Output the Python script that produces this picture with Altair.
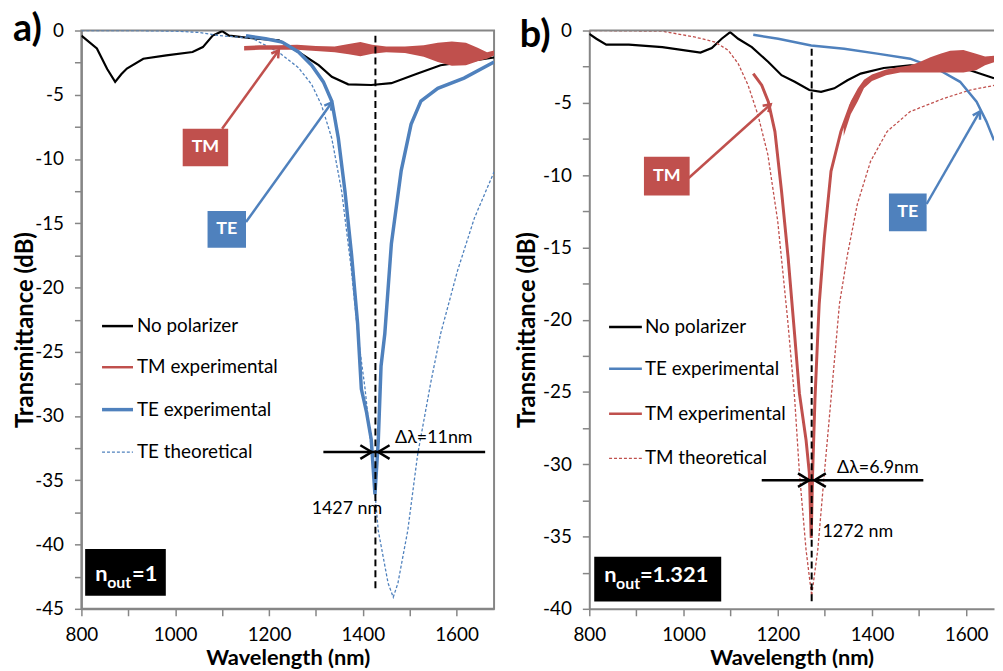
import math
import altair as alt
import pandas as pd

RED = "#C0504D"
BLUE = "#4F81BD"
GRAY = "#868686"
FONT = "Lato"

# ---------------- Panel a (n_out = 1) ----------------
A_NOPOL_WL = [800, 833, 855, 872, 885, 897, 932, 981, 1037, 1059, 1080, 1100, 1115, 1164, 1221, 1263,
              1306, 1334, 1369, 1418, 1461, 1517, 1566, 1616, 1680]
A_NOPOL_DB = [-0.4, -1.4, -3.0, -4.0, -3.4, -2.96, -2.2, -1.93, -1.67, -1.29, -0.39, -0.05, -0.4, -0.6,
              -0.77, -1.67, -2.7, -3.6, -4.19, -4.24, -4.1, -3.34, -2.7, -2.45, -2.1]

A_TM_WL = [1147, 1180, 1220, 1260, 1300, 1340, 1370, 1395, 1420, 1450, 1490, 1530, 1560, 1590, 1620,
           1645, 1665, 1680]
A_TM_HI = [-1.20, -1.15, -1.15, -1.10, -1.20, -1.25, -1.05, -0.90, -1.10, -1.25, -1.25, -1.15, -0.95,
           -0.85, -0.95, -1.35, -1.70, -1.55]
A_TM_LO = [-1.55, -1.50, -1.50, -1.50, -1.60, -1.70, -1.85, -2.00, -1.80, -1.70, -1.75, -2.05, -2.45,
           -2.75, -2.70, -2.40, -2.20, -1.95]

A_TE_WL = [1151, 1193, 1228, 1263, 1291, 1316, 1334, 1348, 1362, 1376, 1389, 1397, 1408, 1418, 1426,
           1433, 1439, 1447, 1461, 1482, 1503, 1524, 1560, 1616, 1680]
A_TE_DB = [-0.4, -0.64, -0.9, -1.67, -2.7, -4.0, -5.5, -8.4, -12.5, -17.4, -22.8, -27.9, -29.7, -31.8,
           -36.1, -32.0, -26.1, -23.6, -16.6, -10.9, -7.3, -5.5, -4.5, -3.7, -2.45]

A_TH_WL = [800, 900, 1000, 1050, 1094, 1164, 1221, 1263, 1291, 1312, 1334, 1355, 1376, 1390, 1405,
           1418, 1433, 1454, 1465, 1475, 1496, 1517, 1545, 1566, 1602, 1638, 1680]
A_TH_DB = [0, 0, -0.05, -0.15, -0.4, -0.6, -1.7, -2.9, -4.2, -5.8, -8.4, -12.5, -18.7, -23.8, -27.9,
           -32.5, -38.9, -43.0, -44.1, -43.0, -38.9, -33.0, -27.4, -23.6, -18.7, -14.6, -11.0]

A_LEGEND = ["No polarizer", "TM experimental", "TE experimental", "TE theoretical"]
A_LEGEND_DB = [-23.0, -26.2, -29.5, -32.8]

# ---------------- Panel b (n_out = 1.321) ----------------
B_NOPOL_WL = [800, 815, 836, 884, 955, 1036, 1060, 1081, 1099, 1116, 1145, 1180, 1208, 1236, 1267,
              1292, 1320, 1348, 1376, 1425, 1481, 1552, 1608, 1659]
B_NOPOL_DB = [-0.23, -0.57, -0.98, -0.98, -1.15, -1.53, -1.21, -0.57, -0.11, -0.57, -1.15, -2.18,
              -3.09, -3.55, -4.12, -4.24, -4.0, -3.44, -2.98, -2.59, -2.41, -2.52, -2.75, -3.3]

B_TE_WL = [1148, 1201, 1271, 1341, 1411, 1481, 1537, 1587, 1622, 1643, 1659]
B_TE_DB = [-0.3, -0.57, -1.03, -1.26, -1.6, -1.95, -2.63, -3.55, -4.93, -6.3, -7.6]

B_TM_WL = [1148, 1166, 1180, 1194, 1208, 1222, 1236, 1246, 1260, 1267, 1271, 1274, 1279, 1285, 1288,
           1299, 1313, 1334, 1355, 1376]
B_TM_DB = [-2.98, -3.78, -4.93, -6.99, -11.1, -15.7, -21.1, -25.1, -28.3, -30.6, -35.1, -30.6, -25.5,
           -21.0, -18.9, -14.3, -9.74, -6.99, -5.15, -4.0]

B_TMBAND_WL = [1340, 1355, 1370, 1383, 1400, 1430, 1460, 1482, 1500, 1524, 1545, 1566, 1594, 1621,
               1640, 1659]
B_TMBAND_HI = [-6.6, -4.9, -4.0, -3.4, -3.05, -2.7, -2.5, -2.4, -2.2, -1.85, -1.6, -1.4, -1.35, -1.6,
               -1.8, -1.75]
B_TMBAND_LO = [-7.3, -5.8, -4.9, -4.0, -3.5, -3.1, -2.9, -2.9, -2.9, -2.9, -2.9, -2.9, -2.9, -2.75,
               -2.4, -2.2]

B_TH_WL = [800, 955, 1025, 1067, 1095, 1116, 1137, 1158, 1179, 1200, 1221, 1236, 1246, 1260, 1272,
           1285, 1299, 1313, 1331, 1348, 1369, 1397, 1432, 1481, 1552, 1608, 1659]
B_TH_DB = [0, -0.05, -0.46, -0.8, -1.37, -2.29, -3.78, -5.84, -8.59, -13.2, -20.0, -25.5, -30.6,
           -35.9, -39.1, -35.9, -30.6, -25.5, -18.9, -15.5, -12.0, -9.05, -6.99, -5.61, -4.7, -4.12,
           -3.8]

B_LEGEND = ["No polarizer", "TE experimental", "TM experimental", "TM theoretical"]
B_LEGEND_DB = [-20.5, -23.4, -26.5, -29.6]

ARROW = "M-1,-0.6L0,0L-1,0.6"


def build_panel(p):
    W, H = p["width"], 583
    xdom = [800, p["xmax"]]
    ydom = [p["ymin"], 0]
    sx = W / (xdom[1] - xdom[0])
    sy = H / (ydom[1] - ydom[0])
    X = alt.X("wl:Q", scale=alt.Scale(domain=xdom, nice=False, zero=False),
              title="Wavelength (nm)",
              axis=alt.Axis(values=list(range(800, 1601, 100)),
                            labelExpr="datum.value % 200 == 0 ? '' + datum.value : ''",
                            grid=False, tickSize=7, tickColor=GRAY, tickWidth=1.5,
                            domainColor=GRAY, domainWidth=2, labelFont=FONT, labelFontSize=19,
                            labelColor="black", labelPadding=10, labelFlush=False,
                            labelOverlap=False, titleFont=FONT, titleFontSize=22,
                            titleFontWeight="bold", titleColor="black", titleY=56,
                            titleBaseline="alphabetic"))
    Y = alt.Y("db:Q", scale=alt.Scale(domain=ydom, nice=False, zero=False),
              title="Transmittance (dB)",
              axis=alt.Axis(values=[ydom[0] + 2.5 * i for i in range(int(-ydom[0] / 2.5) + 1)],
                            labelExpr="datum.value % 5 == 0 ? '' + datum.value : ''",
                            grid=False, tickSize=7, tickColor=GRAY, tickWidth=1.5,
                            domainColor=GRAY, domainWidth=2, labelFont=FONT, labelFontSize=19,
                            labelColor="black", labelPadding=11, labelFlush=False,
                            labelOverlap=False, titleFont=FONT, titleFontSize=24,
                            titleFontWeight="bold", titleColor="black", titleX=p["titleX"],
                            titleY=H / 2 + 10, titleBaseline="alphabetic"))

    def line(wl, db, color, width, dash=None):
        kw = dict(color=color, strokeWidth=width, clip=True)
        if dash:
            kw["strokeDash"] = dash
        return alt.Chart(pd.DataFrame({"wl": wl, "db": db})).mark_line(**kw).encode(x=X, y=Y)

    def band(wl, hi, lo, color):
        return alt.Chart(pd.DataFrame({"wl": wl, "db": hi, "db2": lo})).mark_area(
            color=color, opacity=1, clip=True).encode(x=X, y=Y, y2="db2")

    def seg(rows, color, width, dash=None):
        d = pd.DataFrame(rows, columns=["wl", "db", "wl2", "db2"])
        kw = dict(color=color, strokeWidth=width)
        if dash:
            kw["strokeDash"] = dash
        return alt.Chart(d).mark_rule(**kw).encode(x=X, y=Y, x2="wl2", y2="db2")

    def heads(pts, color, size, width):
        rows = []
        for (x0, y0, x1, y1) in pts:
            ang = math.degrees(math.atan2(-(y1 - y0) * sy, (x1 - x0) * sx)) % 360
            rows.append({"wl": x1, "db": y1, "ang": ang})
        return alt.Chart(pd.DataFrame(rows)).mark_point(
            shape=ARROW, filled=False, size=size, strokeWidth=width, color=color, opacity=1
        ).encode(x=X, y=Y, angle=alt.Angle("ang:Q", scale=None))

    def text(rows, **kw):
        d = pd.DataFrame(rows, columns=["wl", "db", "t"])
        base = dict(font=FONT, color="black")
        base.update(kw)
        return alt.Chart(d).mark_text(**base).encode(x=X, y=Y, text="t:N")

    def rect(box, color):
        d = pd.DataFrame([box], columns=["wl", "wl2", "db", "db2"])
        return alt.Chart(d).mark_rect(color=color, opacity=1).encode(x=X, x2="wl2", y=Y, y2="db2")

    layers = []
    layers.append(line(p["nopol"][0], p["nopol"][1], "black", 2.2))
    for c in p["curves"]:
        if c["kind"] == "band":
            layers.append(band(c["wl"], c["hi"], c["lo"], c["color"]))
        else:
            layers.append(line(c["wl"], c["db"], c["color"], c["width"], c.get("dash")))
    vx, vy0, vy1 = p["vline"]
    layers.append(seg([(vx, vy0, vx, vy1)], "black", 2, [7, 4]))
    hy, hx0, hx1, tip_l, tip_r = p["dl"]
    layers.append(seg([(hx0, hy, hx1, hy)], "black", 2.5))
    layers.append(heads([(hx0, hy, tip_l, hy), (hx1, hy, tip_r, hy)], "black", 520, 2.5))
    layers.append(text([p["dl_text"]], align="left", baseline="alphabetic", fontSize=18))
    layers.append(text([p["nm_text"]], align="left", baseline="alphabetic", fontSize=18))
    for b in p["boxes"]:
        layers.append(seg([b["arrow"]], b["color"], 2.5))
        layers.append(heads([b["arrow"]], b["color"], 200, 2.5))
        layers.append(rect(b["rect"], b["color"]))
        cx = (b["rect"][0] + b["rect"][1]) / 2
        cy = (b["rect"][2] + b["rect"][3]) / 2
        layers.append(text([(cx, cy, b["label"])], align="center", baseline="middle",
                           fontSize=18, fontWeight="bold", color="white"))
    layers.append(rect(p["nbox"], "black"))
    nx, ny, nval = p["ntext"]
    layers.append(text([(nx, ny, "n")], align="left", baseline="alphabetic", fontSize=22,
                       fontWeight="bold", color="white"))
    layers.append(text([(nx, ny, "out")], align="left", baseline="alphabetic", fontSize=16,
                       fontWeight="bold", color="white", dx=12, dy=7))
    layers.append(text([(nx, ny, nval)], align="left", baseline="alphabetic", fontSize=22,
                       fontWeight="bold", color="white", dx=p["eqdx"]))
    lx0, lx1, ltx = p["legx"]
    for name, ydb, st in zip(p["legend"], p["legend_db"], p["legend_styles"]):
        color, width, dash = st
        layers.append(seg([(lx0, ydb, lx1, ydb)], color, width, dash))
    layers.append(text([(ltx, ydb_, nm) for nm, ydb_ in zip(p["legend"], p["legend_db"])],
                       align="left", baseline="middle", fontSize=19))
    layers.append(alt.Chart(pd.DataFrame({"t": [p["letter"]]})).mark_text(
        font=FONT, fontSize=38, fontWeight="bold", color="black", align="left",
        baseline="alphabetic").encode(x=alt.value(p["letter_xy"][0]),
                                      y=alt.value(p["letter_xy"][1]), text="t:N"))
    if p.get("topline"):
        layers.append(alt.Chart(pd.DataFrame({"t": [0]})).mark_rule(
            color=GRAY, strokeWidth=2).encode(x=alt.value(0), x2=alt.value(W), y=alt.value(0)))

    ch = alt.layer(*layers).properties(width=W, height=H)
    if p.get("frame"):
        ch = ch.properties(view=alt.ViewBackground(stroke=GRAY, strokeWidth=2))
    else:
        ch = ch.properties(view=alt.ViewBackground(stroke=None))
    return ch


panel_a = build_panel(dict(
    width=416, xmax=1680, ymin=-45, titleX=-49, frame=True,
    nopol=(A_NOPOL_WL, A_NOPOL_DB),
    curves=[
        dict(kind="line", wl=A_TH_WL, db=A_TH_DB, color=BLUE, width=1.3, dash=[3, 2]),
        dict(kind="band", wl=A_TM_WL, hi=A_TM_HI, lo=A_TM_LO, color=RED),
        dict(kind="line", wl=A_TE_WL, db=A_TE_DB, color=BLUE, width=3.5),
    ],
    vline=(1427, -0.4, -43.6),
    dl=(-32.8, 1316, 1661, 1419, 1433),
    dl_text=(1469, -32.1, "Δλ=11nm"),
    nm_text=(1291, -37.6, "1427 nm"),
    boxes=[
        dict(label="TM", color=RED, rect=(1016, 1113, -7.64, -10.57), arrow=(1100, -7.64, 1221, -1.54)),
        dict(label="TE", color=BLUE, rect=(1069, 1151, -14.04, -16.9), arrow=(1151, -14.9, 1334, -5.6)),
    ],
    nbox=(808, 980, -40.35, -43.98),
    ntext=(829.6, -42.84, "=1"), eqdx=37,
    legx=(844, 910, 918.5),
    legend=A_LEGEND, legend_db=A_LEGEND_DB,
    legend_styles=[("black", 2.5, None), (RED, 2.5, None), (BLUE, 3.5, None), (BLUE, 1.3, [3, 2])],
    letter="a)", letter_xy=(-69, 11),
))

panel_b = build_panel(dict(
    width=408, xmax=1659, ymin=-40, titleX=-55, frame=False, topline=True,
    nopol=(B_NOPOL_WL, B_NOPOL_DB),
    curves=[
        dict(kind="line", wl=B_TH_WL, db=B_TH_DB, color=RED, width=1.3, dash=[3, 2]),
        dict(kind="line", wl=B_TE_WL, db=B_TE_DB, color=BLUE, width=2.5),
        dict(kind="line", wl=B_TM_WL, db=B_TM_DB, color=RED, width=3),
        dict(kind="band", wl=B_TMBAND_WL, hi=B_TMBAND_HI, lo=B_TMBAND_LO, color=RED),
    ],
    vline=(1272, -1.26, -39.7),
    dl=(-31.1, 1166, 1509, 1267, 1278),
    dl_text=(1326, -30.6, "Δλ=6.9nm"),
    nm_text=(1295, -35.05, "1272 nm"),
    boxes=[
        dict(label="TM", color=RED, rect=(916, 1013, -8.73, -11.41), arrow=(1011, -10.2, 1185, -5.1)),
        dict(label="TE", color=BLUE, rect=(1436, 1516, -11.27, -13.88), arrow=(1516, -12.0, 1629, -5.6)),
    ],
    nbox=(810.5, 1080, -36.4, -39.5),
    ntext=(831.6, -38.14, "=1.321"), eqdx=36,
    legx=(842, 911.6, 918),
    legend=B_LEGEND, legend_db=B_LEGEND_DB,
    legend_styles=[("black", 2.5, None), (BLUE, 2.5, None), (RED, 2.5, None), (RED, 1.3, [3, 2])],
    letter="b)", letter_xy=(-70, 17),
))

chart = alt.hconcat(panel_a, panel_b, spacing=96, bounds="flush").properties(
    padding={"left": 4, "top": 0, "right": 0, "bottom": 0}
).configure(background="white")

chart.save("out.html", embed_options={"renderer": "svg", "actions": False})
